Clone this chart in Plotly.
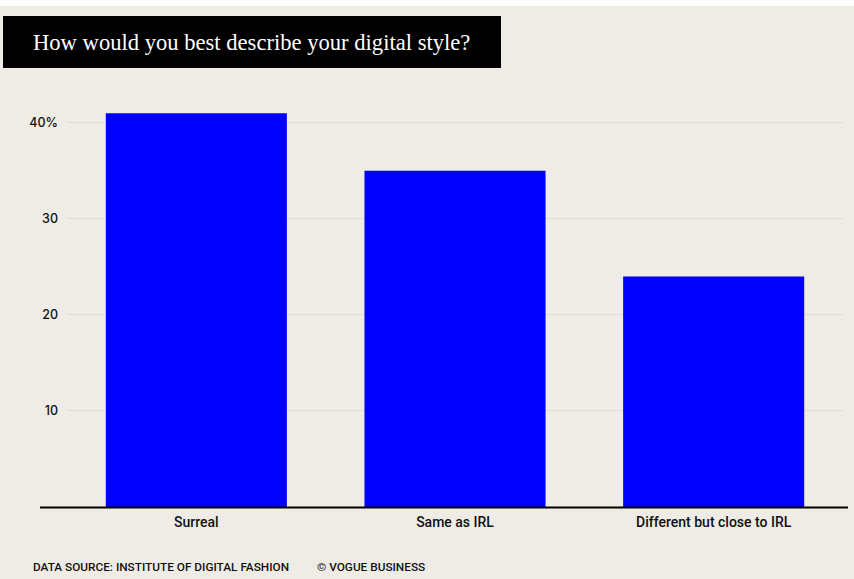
import plotly.graph_objects as go

# Survey responses (% of respondents)
categories = ["Surreal", "Same as IRL", "Different but close to IRL"]
shares = [41, 35, 24]
y_tickvals = [10, 20, 30, 40]
y_ticktext = ["10", "20", "30", "40%"]

BG = "#efece5"
BLUE = "#0000ff"

W, H = 854, 579
ML, MR, MT, MB = 67, 11, 94, 72
PW, PH = W - ML - MR, H - MT - MB


def px_x(p):
    return (p - ML) / PW


def px_y(p):
    return (H - MB - p) / PH


fig = go.Figure(
    go.Bar(
        x=categories,
        y=shares,
        marker=dict(color=BLUE, line=dict(width=0)),
        hoverinfo="skip",
    )
)

fig.update_layout(
    width=W,
    height=H,
    margin=dict(l=ML, r=MR, t=MT, b=MB),
    paper_bgcolor=BG,
    plot_bgcolor=BG,
    bargap=0.3,
    showlegend=False,
    font=dict(family="Roboto", color="#111111"),
    xaxis=dict(
        showgrid=False,
        zeroline=False,
        showline=False,
        ticks="",
        ticklabelstandoff=5,
        tickfont=dict(size=14, family="Roboto", color="#111111", weight=500),
    ),
    yaxis=dict(
        range=[0, 43],
        tickvals=y_tickvals,
        ticktext=y_ticktext,
        showgrid=True,
        gridcolor="#e0ddd5",
        gridwidth=1,
        zeroline=False,
        showline=False,
        ticks="",
        ticklabelstandoff=8,
        tickfont=dict(size=12.5, family="Inter", color="#111111", weight=500),
    ),
    shapes=[
        # thin white strip along the top edge
        dict(type="rect", xref="paper", yref="paper",
             x0=px_x(0), x1=px_x(W), y0=px_y(6), y1=px_y(-2),
             fillcolor="#ffffff", line=dict(width=0), layer="below"),
        # black title banner
        dict(type="rect", xref="paper", yref="paper",
             x0=px_x(3), x1=px_x(501), y0=px_y(68), y1=px_y(16),
             fillcolor="#000000", line=dict(width=0)),
        # baseline
        dict(type="line", xref="paper", yref="paper",
             x0=px_x(40), x1=px_x(848), y0=px_y(507.5), y1=px_y(507.5),
             line=dict(color="#000000", width=2), layer="above"),
    ],
    annotations=[
        dict(text="How would you best describe your digital style?",
             xref="paper", yref="paper", x=px_x(31), y=px_y(42),
             xanchor="left", yanchor="middle", showarrow=False,
             font=dict(family="Liberation Serif", size=22.6, color="#ffffff")),
        dict(text="DATA SOURCE: INSTITUTE OF DIGITAL FASHION",
             xref="paper", yref="paper", x=px_x(31), y=px_y(567),
             xanchor="left", yanchor="middle", showarrow=False,
             font=dict(family="Roboto", size=11.8, color="#111111", weight=500)),
        dict(text="© VOGUE BUSINESS",
             xref="paper", yref="paper", x=px_x(315), y=px_y(567),
             xanchor="left", yanchor="middle", showarrow=False,
             font=dict(family="Roboto", size=11.8, color="#111111", weight=500)),
    ],
)

fig.write_html("out.html")
